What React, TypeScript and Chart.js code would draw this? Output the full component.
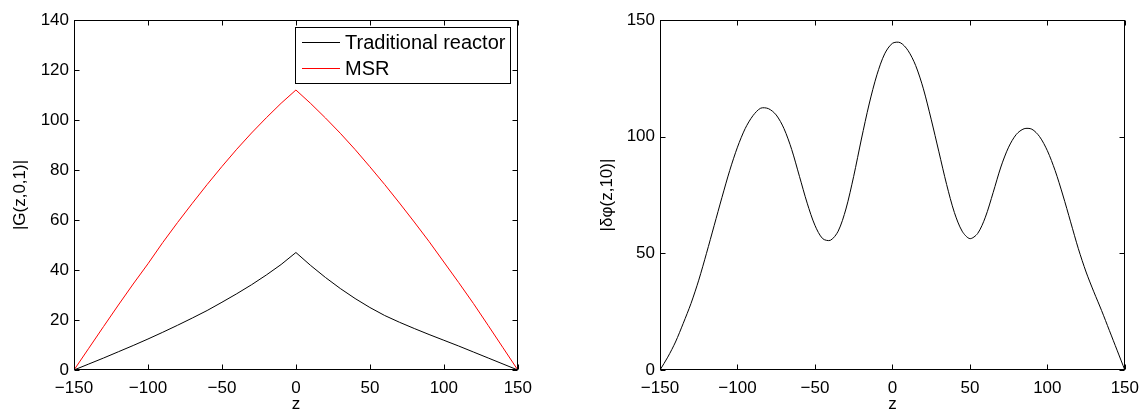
import React, { useEffect, useRef } from "react";
import { Chart, registerables } from "chart.js";

Chart.register(...registerables);

// Left panel: |G(z,0,1)|
const zLeft = [-150, -140, -130, -120, -110, -100, -90, -80, -70, -60, -50, -40, -30, -20, -10, 0,
  10, 20, 30, 40, 50, 60, 70, 80, 90, 100, 110, 120, 130, 140, 150];
const traditional = [0, 2.4, 4.8, 7.3, 9.8, 12.4, 15.1, 17.9, 20.8, 23.8, 27.1, 30.5, 34.1, 38.0, 42.2, 47,
  41.8, 37.0, 32.6, 28.6, 25.0, 21.8, 19.1, 16.6, 14.2, 11.9, 9.6, 7.2, 4.8, 2.4, 0];
const msr = [0, 8.7, 17.4, 26.0, 34.4, 42.5, 51.0, 59.0, 66.7, 74.2, 81.4, 88.3, 94.8, 100.9, 106.7, 112,
  106.6, 100.8, 94.7, 88.2, 81.3, 74.2, 66.8, 59.2, 51.4, 43.2, 35.0, 26.6, 17.8, 8.9, 0];
const leftLabels = ["Traditional reactor", "MSR"];
const leftXTicks = [-150, -100, -50, 0, 50, 100, 150];
const leftYTicks = [0, 20, 40, 60, 80, 100, 120, 140];

// Right panel: |δφ(z,10)|
const zRight = [-150, -145, -140, -135, -130, -125, -120, -115, -110, -105, -100, -95, -90, -85, -80, -75,
  -70, -65, -60, -55, -50, -45, -40, -35, -30, -25, -20, -15, -10, -5, 0, 5, 10, 15, 20, 25, 30, 35, 40,
  45, 50, 55, 60, 65, 70, 75, 80, 85, 90, 95, 100, 105, 110, 115, 120, 125, 130, 135, 140, 145, 150];
const dphi = [0, 5.5, 12, 20, 28.5, 38.5, 50, 62, 74, 85.5, 95.5, 103.5, 109, 112.2, 112, 109.3,
  103.5, 94.5, 83, 71.5, 62, 56.3, 55.6, 59.5, 69, 83, 99, 114, 126.5, 135.5, 140, 140.3, 137, 130.5, 120.5, 107.5, 93.5, 79.5, 67.5,
  59.5, 56.3, 58.5, 65.5, 76, 87, 95.5, 101, 103.4, 103.2, 100, 94, 85.5, 75, 63.5, 52, 42, 33.5, 25.5, 17, 8.5, 0];
const rightXTicks = [-150, -100, -50, 0, 50, 100, 150];
const rightYTicks = [0, 50, 100, 150];

const FONT = "'Liberation Sans', Arial, Helvetica, sans-serif";

const fmt = (v: number) => (v < 0 ? "\u2212" + Math.abs(v) : String(v));

const matlabAxes = {
  id: "matlabAxes",
  afterDatasetsDraw(chart: any) {
    const { ctx, chartArea } = chart;
    const { left, right, top, bottom } = chartArea;
    const x = chart.scales.x;
    const y = chart.scales.y;
    const L = Math.round(left) + 0.5;
    const R = Math.round(right) - 0.5;
    const T = Math.round(top) + 0.5;
    const B = Math.round(bottom) - 0.5;
    ctx.save();
    ctx.strokeStyle = "#000";
    ctx.lineWidth = 1;
    ctx.strokeRect(L, T, R - L, B - T);
    ctx.beginPath();
    const tl = 5;
    x.ticks.forEach((t: any) => {
      const px = Math.round(x.getPixelForValue(t.value)) + 0.5;
      ctx.moveTo(px, B);
      ctx.lineTo(px, B - tl);
      ctx.moveTo(px, T);
      ctx.lineTo(px, T + tl);
    });
    y.ticks.forEach((t: any) => {
      const py = Math.round(y.getPixelForValue(t.value)) + 0.5;
      ctx.moveTo(L, py);
      ctx.lineTo(L + tl, py);
      ctx.moveTo(R, py);
      ctx.lineTo(R - tl, py);
    });
    ctx.stroke();
    ctx.restore();
  },
};

const boxLegend = {
  id: "boxLegend",
  afterDraw(chart: any, _args: any, opts: any) {
    if (!opts || !opts.enabled) return;
    const { ctx } = chart;
    const bx = 295.5, by = 27.5, bw = 215, bh = 56;
    ctx.save();
    ctx.fillStyle = "#fff";
    ctx.fillRect(bx, by, bw, bh);
    ctx.strokeStyle = "#000";
    ctx.lineWidth = 1;
    ctx.strokeRect(bx, by, bw, bh);
    ctx.font = `20px ${FONT}`;
    ctx.textBaseline = "middle";
    ctx.textAlign = "left";
    const rows = [42.5, 68.5];
    chart.data.datasets.forEach((ds: any, i: number) => {
      ctx.strokeStyle = ds.borderColor;
      ctx.beginPath();
      ctx.moveTo(302, rows[i]);
      ctx.lineTo(340, rows[i]);
      ctx.stroke();
      ctx.fillStyle = "#000";
      ctx.fillText(ds.label, 345, rows[i] + 1);
    });
    ctx.restore();
  },
};

function makeOptions(opts: {
  xTicks: number[];
  yTicks: number[];
  yMax: number;
  yTitle: string;
  yWidth: number;
  yTitlePad: number;
  padRight: number;
  legend: boolean;
}) {
  return {
    responsive: false,
    animation: false as const,
    layout: { padding: { left: 0, right: opts.padRight, top: 20, bottom: 0 } },
    plugins: {
      legend: { display: false },
      tooltip: { enabled: false },
      boxLegend: { enabled: opts.legend },
    },
    elements: { point: { radius: 0 } },
    scales: {
      x: {
        type: "linear" as const,
        min: opts.xTicks[0],
        max: opts.xTicks[opts.xTicks.length - 1],
        grid: { display: false, drawTicks: false },
        border: { display: false },
        afterBuildTicks: (scale: any) => {
          scale.ticks = opts.xTicks.map((v) => ({ value: v }));
        },
        afterFit: (scale: any) => {
          scale.height = 42;
        },
        ticks: {
          color: "#000",
          padding: 8,
          maxRotation: 0,
          autoSkip: false,
          font: { family: FONT, size: 17 },
          callback: (v: any) => fmt(Number(v)),
        },
        title: {
          display: true,
          text: "z",
          color: "#000",
          font: { family: FONT, size: 17, lineHeight: 1 },
          padding: { top: 0, bottom: -1 },
        },
      },
      y: {
        type: "linear" as const,
        min: 0,
        max: opts.yMax,
        grid: { display: false, drawTicks: false },
        border: { display: false },
        afterBuildTicks: (scale: any) => {
          scale.ticks = opts.yTicks.map((v) => ({ value: v }));
        },
        afterFit: (scale: any) => {
          scale.width = opts.yWidth;
        },
        ticks: {
          color: "#000",
          padding: 5,
          autoSkip: false,
          font: { family: FONT, size: 17 },
          callback: (v: any) => fmt(Number(v)),
        },
        title: {
          display: true,
          text: opts.yTitle,
          color: "#000",
          font: { family: FONT, size: 17, lineHeight: 1 },
          padding: { top: opts.yTitlePad, bottom: 0 },
        },
      },
    },
  };
}

export default function App() {
  const leftRef = useRef<HTMLCanvasElement>(null);
  const rightRef = useRef<HTMLCanvasElement>(null);

  useEffect(() => {
    const left = new Chart(leftRef.current!, {
      type: "line",
      data: {
        datasets: [
          {
            label: leftLabels[0],
            data: zLeft.map((z, i) => ({ x: z, y: traditional[i] })),
            borderColor: "#000000",
            borderWidth: 1,
            tension: 0,
            fill: false,
          },
          {
            label: leftLabels[1],
            data: zLeft.map((z, i) => ({ x: z, y: msr[i] })),
            borderColor: "#ff0000",
            borderWidth: 1,
            tension: 0,
            fill: false,
          },
        ],
      },
      options: makeOptions({
        xTicks: leftXTicks,
        yTicks: leftYTicks,
        yMax: 140,
        yTitle: "|G(z,0,1)|",
        yWidth: 74,
        yTitlePad: 11.5,
        padRight: 21,
        legend: true,
      }) as any,
      plugins: [matlabAxes, boxLegend],
    });

    const right = new Chart(rightRef.current!, {
      type: "line",
      data: {
        datasets: [
          {
            label: "|δφ(z,10)|",
            data: zRight.map((z, i) => ({ x: z, y: dphi[i] })),
            borderColor: "#000000",
            borderWidth: 1,
            tension: 0.3,
            fill: false,
          },
        ],
      },
      options: makeOptions({
        xTicks: rightXTicks,
        yTicks: rightYTicks,
        yMax: 150,
        yTitle: "|δφ(z,10)|",
        yWidth: 80,
        yTitlePad: 18.5,
        padRight: 19,
        legend: false,
      }) as any,
      plugins: [matlabAxes, boxLegend],
    });

    return () => {
      left.destroy();
      right.destroy();
    };
  }, []);

  return (
    <div style={{ position: "fixed", left: 0, top: 0, width: 1147, height: 412, background: "#fff" }}>
      <canvas
        ref={leftRef}
        width={540}
        height={412}
        style={{ position: "absolute", left: 0, top: 0, width: 540, height: 412 }}
      />
      <canvas
        ref={rightRef}
        width={567}
        height={412}
        style={{ position: "absolute", left: 580, top: 0, width: 567, height: 412 }}
      />
    </div>
  );
}
